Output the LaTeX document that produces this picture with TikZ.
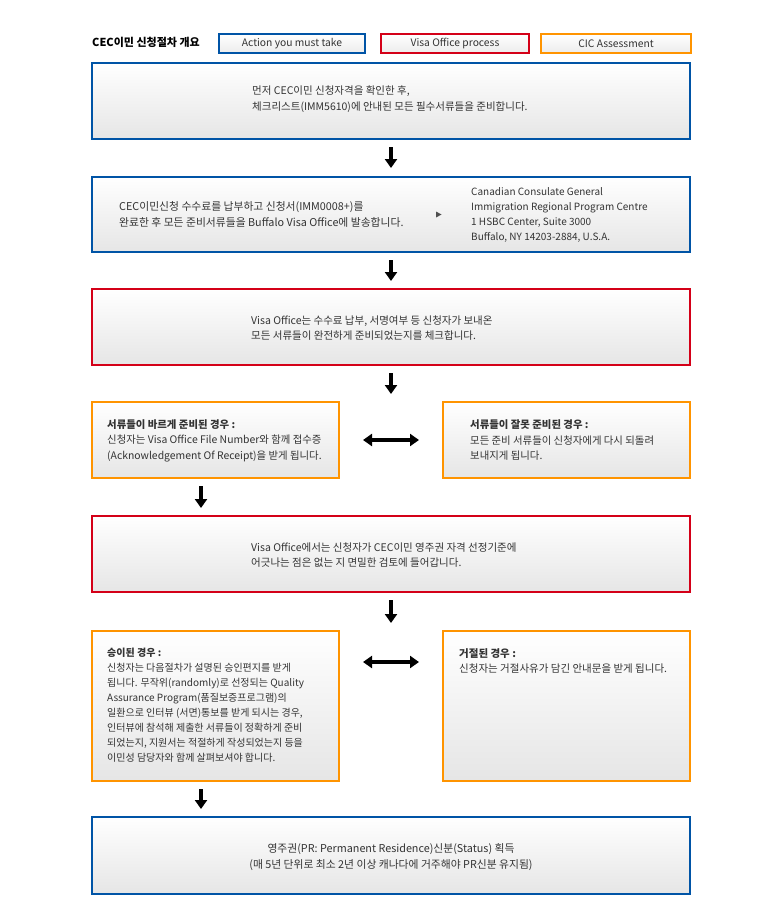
\documentclass[tikz,border=0pt]{standalone}
\usepackage{fontspec}
\setmainfont{Noto Sans CJK KR}
\usetikzlibrary{arrows.meta}
\definecolor{cblue}{RGB}{0,84,166}
\definecolor{cred}{RGB}{212,0,24}
\definecolor{corange}{RGB}{255,148,0}
\definecolor{ctext}{RGB}{51,51,51}
\definecolor{ctri}{RGB}{80,80,80}
\begin{document}
\begin{tikzpicture}[x=1pt,y=-1pt,
  box/.style={draw, line width=2pt, top color=white, bottom color=gray!20,
    anchor=north west, inner sep=0pt, outer sep=0pt},
  bluebox/.style={box, draw=cblue},
  redbox/.style={box, draw=cred},
  orangebox/.style={box, draw=corange},
  legend/.style={line width=2pt, top color=white, bottom color=gray!15,
    anchor=north west, inner sep=0pt, text=ctext,
    font=\fontsize{10.3}{11}\selectfont, minimum height=19pt},
  txt/.style={text=ctext, font=\fontsize{10.5}{15.5}\selectfont, align=left,
    inner sep=0pt, anchor=west},
  downarr/.style={line width=3.5pt, -{Triangle[width=12pt,length=9pt]}},
  duoarr/.style={line width=3.5pt,
    {Triangle[width=12pt,length=9pt]}-{Triangle[width=12pt,length=9pt]}},
]
\useasboundingbox (0,0) rectangle (783,900);

% header and legend
\node[anchor=west, inner sep=0pt, font=\fontsize{11}{12}\selectfont\bfseries]
  (hdr) at (92,42) {CEC이민 신청절차 개요};
\node[legend, draw=cblue, minimum width=146pt] (lg1) at (218,33) {Action you must take};
\node[legend, draw=cred, minimum width=148pt] (lg2) at (380,33) {Visa Office process};
\node[legend, draw=corange, minimum width=150pt] (lg3) at (540,33) {CIC Assessment};

% boxes
\node[bluebox, minimum width=598pt, minimum height=76pt] (b1) at (92,63) {};
\node[bluebox, minimum width=598pt, minimum height=75pt] (b2) at (92,177) {};
\node[redbox, minimum width=598pt, minimum height=76pt] (b3) at (92,289) {};
\node[orangebox, minimum width=247pt, minimum height=76pt] (b4l) at (92,402) {};
\node[orangebox, minimum width=247pt, minimum height=76pt] (b4r) at (443,402) {};
\node[redbox, minimum width=598pt, minimum height=76pt] (b5) at (92,516) {};
\node[orangebox, minimum width=247pt, minimum height=150pt] (b6l) at (92,631) {};
\node[orangebox, minimum width=247pt, minimum height=150pt] (b6r) at (443,631) {};
\node[bluebox, minimum width=598pt, minimum height=77pt] (b7) at (92,817) {};

% texts
\node[txt] (t1) at (252,99) {먼저 CEC이민 신청자격을 확인한 후,\\
체크리스트(IMM5610)에 안내된 모든 필수서류들을 준비합니다.};
\node[txt, font=\fontsize{10.8}{15.5}\selectfont] (t2l) at (119,214.5) {CEC이민신청 수수료를 납부하고 신청서(IMM0008+)를\\
완료한 후 모든 준비서류들을 Buffalo Visa Office에 발송합니다.};
\fill[ctri] (436,211.5) -- (441.5,214.5) -- (436,217.5) -- cycle;
\node[txt, font=\fontsize{10}{15}\selectfont] (t2r) at (471,214.5) {Canadian Consulate General\\
Immigration Regional Program Centre\\
1 HSBC Center, Suite 3000\\
Buffalo, NY 14203-2884, U.S.A.};
\node[txt] (t3) at (251,328) {Visa Office는 수수료 납부, 서명여부 등 신청자가 보내온\\
모든 서류들이 완전하게 준비되었는지를 체크합니다.};
\node[txt, font=\fontsize{10.4}{15.5}\selectfont] (t4l) at (107,440.5) {\textbf{서류들이 바르게 준비된 경우 :}\\
신청자는 Visa Office File Number와 함께 접수증\\
(Acknowledgement Of Receipt)을 받게 됩니다.};
\node[txt, font=\fontsize{10.4}{15.5}\selectfont] (t4r) at (470,440.5) {\textbf{서류들이 잘못 준비된 경우 :}\\
모든 준비 서류들이 신청자에게 다시 되돌려\\
보내지게 됩니다.};
\node[txt] (t5) at (251,555) {Visa Office에서는 신청자가 CEC이민 영주권 자격 선정기준에\\
어긋나는 점은 없는 지 면밀한 검토에 들어갑니다.};
\node[txt, font=\fontsize{10}{15}\selectfont] (t6l) at (107,705.5) {\textbf{승이된 경우 :}\\
신청자는 다음절차가 설명된 승인편지를 받게\\
됩니다. 무작위(randomly)로 선정되는 Quality\\
Assurance Program(품질보증프로그램)의\\
일환으로 인터뷰 (서면)통보를 받게 되시는 경우,\\
인터뷰에 참석해 제출한 서류들이 정확하게 준비\\
되었는지, 지원서는 적절하게 작성되었는지 등을\\
이민성 담당자와 함께 살펴보셔야 합니다.};
\node[txt] (t6r) at (459,661) {\textbf{거절된 경우 :}\\
신청자는 거절사유가 담긴 안내문을 받게 됩니다.};
\node[txt, anchor=center, align=center, font=\fontsize{10.8}{16}\selectfont] (t7) at (391,857) {영주권(PR: Permanent Residence)신분(Status) 획득\\
(매 5년 단위로 최소 2년 이상 캐나다에 거주해야 PR신분 유지됨)};

% arrows
\draw[downarr] ([yshift=-8pt]b1.south) -- ([yshift=9pt]b2.north);
\draw[downarr] ([yshift=-8pt]b2.south) -- ([yshift=8pt]b3.north);
\draw[downarr] ([yshift=-8pt]b3.south) -- ([yshift=8pt]b4l.north -| b3.north);
\coordinate (a4s) at ([xshift=-14.5pt,yshift=-8pt]b4l.south);
\coordinate (a4e) at ([yshift=8pt]a4s |- b5.north);
\draw[downarr] (a4s) -- (a4e);
\draw[duoarr] ([xshift=24pt]b4l.east) -- ([xshift=-24pt]b4r.west);
\draw[downarr] ([yshift=-8pt]b5.south) -- ([yshift=8pt]b6l.north -| b5.north);
\coordinate (d6s) at ([xshift=24pt,yshift=-31pt]b6l.north east);
\coordinate (d6e) at ([xshift=-24pt,yshift=-31pt]b6r.north west);
\draw[duoarr] (d6s) -- (d6e);
\coordinate (a6s) at ([xshift=-14.5pt,yshift=-8pt]b6l.south);
\coordinate (a6e) at ([yshift=8pt]a6s |- b7.north);
\draw[downarr] (a6s) -- (a6e);
\end{tikzpicture}
\end{document}
